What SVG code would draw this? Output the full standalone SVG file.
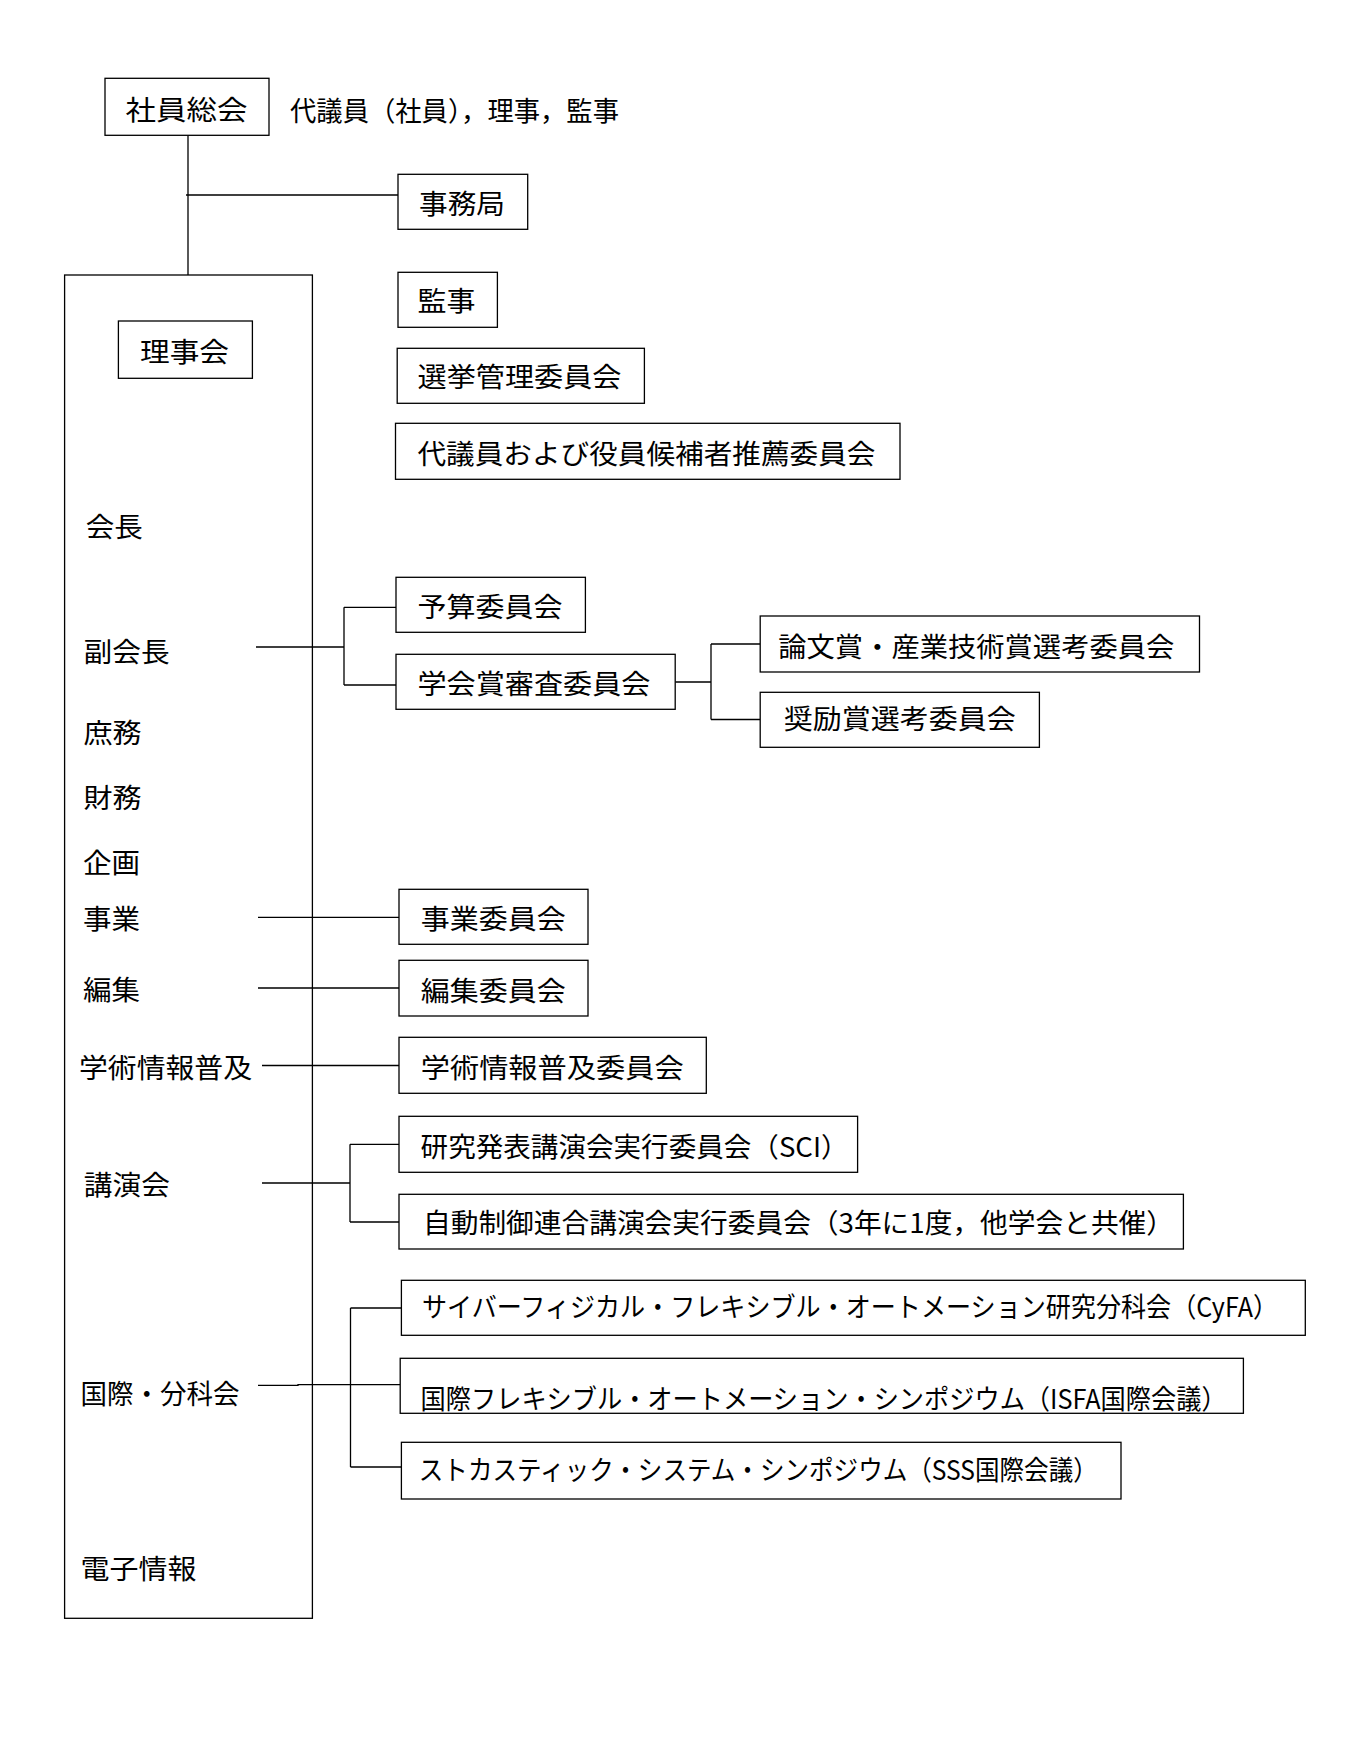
<svg xmlns="http://www.w3.org/2000/svg" width="1357" height="1753" viewBox="0 0 1357 1753">
<style>
.b{fill:#fff;stroke:#000;stroke-width:1.3}
.o{fill:none;stroke:#000;stroke-width:1.3}
.l{fill:none;stroke:#000;stroke-width:1.3}
text{font-family:"Noto Sans CJK JP","Noto Sans CJK SC",sans-serif;font-size:27px;fill:#000;dominant-baseline:central}
</style>
<rect width="1357" height="1753" fill="#fff"/>
<g id="n-riji-outer"><rect class="o" x="64.6" y="275" width="247.8" height="1343.3"/></g>
<g id="connectors">
<path class="l" d="M188,135.3V275M186,195H398"/>
<path class="l" d="M256,647H344M344,607.3V685M344,607.3H396M344,685H396"/>
<path class="l" d="M675.2,682H711M711,644V719.5M711,644H760.2M711,719.5H760.2"/>
<path class="l" d="M258,917.3H399M258,988H399M262,1065.5H399"/>
<path class="l" d="M262,1183H350M350,1144.3V1222M350,1144.3H399M350,1222H399"/>
<path class="l" d="M258,1385.3H298V1384.6H400.2M350.5,1308V1467M350.5,1308H401.4M350.5,1467H401.4"/>
</g>
<g id="n-shain-sokai"><rect class="b" x="105" y="78.3" width="164" height="57"/><text x="125.5" y="108.3" textLength="122" lengthAdjust="spacingAndGlyphs">社員総会</text></g>
<g id="n-shain-note"><text x="290" y="109" textLength="329" lengthAdjust="spacingAndGlyphs">代議員（社員），理事，監事</text></g>
<g id="n-jimukyoku"><rect class="b" x="398" y="174.3" width="129.7" height="55"/><text x="419" y="202" textLength="86" lengthAdjust="spacingAndGlyphs">事務局</text></g>
<g id="n-rijikai"><rect class="b" x="118.4" y="321" width="134" height="57.3"/><text x="140" y="350" textLength="89" lengthAdjust="spacingAndGlyphs">理事会</text></g>
<g id="n-kanji"><rect class="b" x="398" y="272.3" width="99.4" height="55"/><text x="417.5" y="299.5" textLength="58" lengthAdjust="spacingAndGlyphs">監事</text></g>
<g id="n-senkyo"><rect class="b" x="397.2" y="348.3" width="247.2" height="55"/><text x="417.5" y="375" textLength="204" lengthAdjust="spacingAndGlyphs">選挙管理委員会</text></g>
<g id="n-suisen"><rect class="b" x="395.5" y="423.3" width="504.5" height="56"/><text x="417.5" y="452.5" textLength="458" lengthAdjust="spacingAndGlyphs">代議員および役員候補者推薦委員会</text></g>
<g id="n-kaicho"><text x="85.7" y="525" textLength="57" lengthAdjust="spacingAndGlyphs">会長</text></g>
<g id="n-fukukaicho"><text x="83.6" y="650" textLength="86" lengthAdjust="spacingAndGlyphs">副会長</text></g>
<g id="n-shomu"><text x="83.6" y="731.7" textLength="58" lengthAdjust="spacingAndGlyphs">庶務</text></g>
<g id="n-zaimu"><text x="83.6" y="796" textLength="58" lengthAdjust="spacingAndGlyphs">財務</text></g>
<g id="n-kikaku"><text x="83" y="861" textLength="57" lengthAdjust="spacingAndGlyphs">企画</text></g>
<g id="n-jigyo"><text x="83" y="917" textLength="57" lengthAdjust="spacingAndGlyphs">事業</text></g>
<g id="n-henshu"><text x="83" y="988" textLength="57" lengthAdjust="spacingAndGlyphs">編集</text></g>
<g id="n-gakujutsu"><text x="79" y="1066" textLength="173" lengthAdjust="spacingAndGlyphs">学術情報普及</text></g>
<g id="n-koenkai"><text x="83.8" y="1183" textLength="86" lengthAdjust="spacingAndGlyphs">講演会</text></g>
<g id="n-kokusai"><text x="80.4" y="1392.5" textLength="159" lengthAdjust="spacingAndGlyphs">国際・分科会</text></g>
<g id="n-denshi"><text x="80.4" y="1567.5" textLength="116" lengthAdjust="spacingAndGlyphs">電子情報</text></g>
<g id="n-yosan"><rect class="b" x="396" y="577.3" width="189.4" height="55"/><text x="417.5" y="605.3" textLength="145" lengthAdjust="spacingAndGlyphs">予算委員会</text></g>
<g id="n-gakkaisho"><rect class="b" x="396" y="654.3" width="279.2" height="55"/><text x="417.5" y="682" textLength="233" lengthAdjust="spacingAndGlyphs">学会賞審査委員会</text></g>
<g id="n-ronbunsho"><rect class="b" x="760.2" y="616" width="439.3" height="56"/><text x="778.3" y="645" textLength="396" lengthAdjust="spacingAndGlyphs">論文賞・産業技術賞選考委員会</text></g>
<g id="n-shoreisho"><rect class="b" x="760.2" y="692.3" width="279.2" height="55"/><text x="783.8" y="717.8" textLength="232" lengthAdjust="spacingAndGlyphs">奨励賞選考委員会</text></g>
<g id="n-jigyo-iinkai"><rect class="b" x="399" y="889.3" width="189" height="55"/><text x="420.7" y="917" textLength="145" lengthAdjust="spacingAndGlyphs">事業委員会</text></g>
<g id="n-henshu-iinkai"><rect class="b" x="399" y="960.3" width="189" height="55.7"/><text x="420.7" y="989" textLength="145" lengthAdjust="spacingAndGlyphs">編集委員会</text></g>
<g id="n-gakujutsu-iinkai"><rect class="b" x="399" y="1037.3" width="307.3" height="56"/><text x="420.7" y="1066.3" textLength="263" lengthAdjust="spacingAndGlyphs">学術情報普及委員会</text></g>
<g id="n-sci"><rect class="b" x="399" y="1116.3" width="458.6" height="56"/><text x="420.6" y="1145" textLength="428" lengthAdjust="spacingAndGlyphs">研究発表講演会実行委員会（SCI）</text></g>
<g id="n-jidoseigyo"><rect class="b" x="399" y="1194.3" width="784.4" height="54.7"/><text x="423" y="1221.7" textLength="751" lengthAdjust="spacingAndGlyphs">自動制御連合講演会実行委員会（3年に1度，他学会と共催）</text></g>
<g id="n-cyfa"><rect class="b" x="401.4" y="1280.3" width="903.9" height="55"/><text x="422" y="1305.7" textLength="856" lengthAdjust="spacingAndGlyphs">サイバーフィジカル・フレキシブル・オートメーション研究分科会（CyFA）</text></g>
<g id="n-isfa"><rect class="b" x="400.2" y="1358.3" width="843.2" height="55"/><text x="420.6" y="1397" textLength="806" lengthAdjust="spacingAndGlyphs">国際フレキシブル・オートメーション・シンポジウム（ISFA国際会議）</text></g>
<g id="n-sss"><rect class="b" x="401.4" y="1442.3" width="719.6" height="56.7"/><text x="418.8" y="1468.3" textLength="679" lengthAdjust="spacingAndGlyphs">ストカスティック・システム・シンポジウム（SSS国際会議）</text></g>
</svg>
